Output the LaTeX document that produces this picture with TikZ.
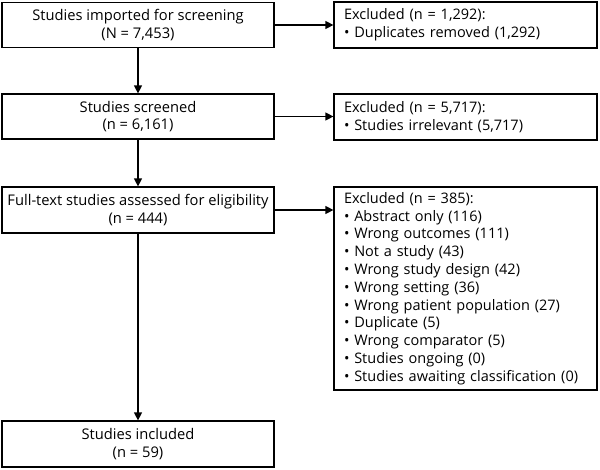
\documentclass[tikz,border=0pt]{standalone}
\usepackage{fontspec}
\setmainfont{Open Sans}
\usetikzlibrary{arrows.meta}
\newcommand{\reason}[1]{\mbox{\textbullet\ #1}}

\begin{document}
\begin{tikzpicture}[x=1pt,y=-1pt,>={Triangle[length=8pt,width=8pt]},font=\fontsize{14.7}{17.2}\selectfont,
  stage/.style={draw,line width=1.2pt,minimum width=272pt,minimum height=45pt,align=center,inner sep=0pt},
  excl/.style={draw,line width=1.2pt,minimum width=263pt,text width=243pt,align=left,inner sep=0pt,
    font=\fontsize{14.5}{17.8}\selectfont},
  flow/.style={->,line width=1.2pt}]
\useasboundingbox (0,0) rectangle (600,469);
\node[stage] (imp) at (138,25) {Studies imported for screening\\(N = 7,453)};
\node[stage] (scr) at (138,116.5) {Studies screened\\(n = 6,161)};
\node[stage,minimum height=46pt] (full) at (138,210) {Full-text studies assessed for eligibility\\(n = 444)};
\node[stage,minimum height=46pt] (incl) at (138,444) {Studies included\\(n = 59)};
\node[excl,minimum height=46pt] (ex1) at (465.5,25) {Excluded (n = 1,292):\\\reason{Duplicates removed (1,292)}};
\node[excl,minimum height=46pt] (ex2) at (465.5,117) {Excluded (n = 5,717):\\\reason{Studies irrelevant (5,717)}};
\node[excl,minimum height=203pt] (ex3) at (465.5,288.5) {Excluded (n = 385):\\
  \reason{Abstract only (116)}\\ \reason{Wrong outcomes (111)}\\ \reason{Not a study (43)}\\
  \reason{Wrong study design (42)}\\ \reason{Wrong setting (36)}\\ \reason{Wrong patient population (27)}\\
  \reason{Duplicate (5)}\\ \reason{Wrong comparator (5)}\\ \reason{Studies ongoing (0)}\\
  \reason{Studies awaiting classification (0)}};
\draw[flow] (imp) -- (scr); \draw[flow] (scr) -- (full); \draw[flow] (full) -- (incl);
\draw[flow] (imp.east) -- (ex1.west); \draw[flow] (scr.east) -- (scr.east -| ex2.west);
\draw[flow] (full.east) -- (full.east -| ex3.west);
\end{tikzpicture}
\end{document}
